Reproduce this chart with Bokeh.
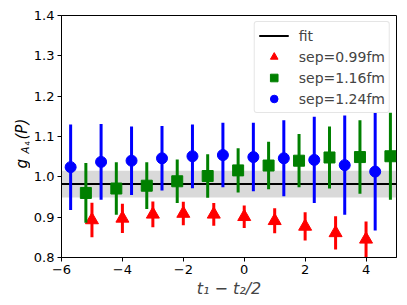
import numpy as np
from bokeh.plotting import figure
from bokeh.layouts import row
from bokeh.models import (ColumnDataSource, BoxAnnotation, Legend, LegendItem,
                          Label, FixedTicker, Range1d)
from bokeh.embed import file_html
from bokeh.resources import INLINE

# ---- data ----
x_red = [-5, -4, -3, -2, -1, 0, 1, 2, 3, 4]
y_red = [0.893, 0.897, 0.907, 0.909, 0.907, 0.901, 0.891, 0.877, 0.861, 0.845]
e_red = [0.043, 0.036, 0.032, 0.029, 0.028, 0.028, 0.031, 0.035, 0.041, 0.044]

x_green = [-5.2, -4.2, -3.2, -2.2, -1.2, -0.2, 0.8, 1.8, 2.8, 3.8, 4.8]
y_green = [0.960, 0.971, 0.978, 0.989, 1.002, 1.016, 1.028, 1.040, 1.048, 1.049, 1.051]
e_green = [0.074, 0.065, 0.058, 0.054, 0.054, 0.055, 0.059, 0.066, 0.077, 0.091, 0.108]

x_blue = [-5.7, -4.7, -3.7, -2.7, -1.7, -0.7, 0.3, 1.3, 2.3, 3.3, 4.3]
y_blue = [1.024, 1.037, 1.040, 1.046, 1.051, 1.054, 1.049, 1.046, 1.042, 1.029, 1.013]
e_blue = [0.106, 0.094, 0.085, 0.080, 0.079, 0.080, 0.085, 0.094, 0.107, 0.123, 0.146]

fit_value = 0.982
fit_error = 0.033

x_limits = [-6, 5]
y_limits = [0.8, 1.4]
x_ticks = [-6, -4, -2, 0, 2, 4]
y_ticks = [0.8, 0.9, 1.0, 1.1, 1.2, 1.3, 1.4]

labels = ["sep=0.99fm", "sep=1.16fm", "sep=1.24fm"]

FONT = "DejaVu Sans"
TOTAL_H = 305
LABEL_W = 30

p = figure(frame_width=335, frame_height=242, output_backend="svg", toolbar_location=None,
           x_range=Range1d(*x_limits), y_range=Range1d(*y_limits),
           min_border_left=29, min_border_right=13, min_border_top=15,
           min_border_bottom=48)
p.grid.visible = False
p.outline_line_color = "black"
p.outline_line_width = 1
p.background_fill_color = "white"
p.border_fill_color = "white"

for ax in (p.xaxis, p.yaxis):
    ax.major_label_text_font = FONT
    ax.major_label_text_font_size = "13px"
    ax.major_label_text_color = "black"
    ax.axis_line_color = "black"
    ax.major_tick_line_color = "black"
    ax.major_tick_out = 4
    ax.major_tick_in = 0
    ax.minor_tick_line_color = None
p.xaxis.ticker = FixedTicker(ticks=x_ticks)
p.yaxis.ticker = FixedTicker(ticks=y_ticks)
p.xaxis.major_label_overrides = {t: ("\u2212" + str(abs(t)) if t < 0 else str(t)) for t in x_ticks}
p.yaxis.major_label_overrides = {t: f"{t:.1f}" for t in y_ticks}
p.xaxis.major_label_standoff = 3
p.yaxis.major_label_standoff = 3

p.xaxis.axis_label = "t\u2081 \u2212 t\u2082/2"
p.xaxis.axis_label_text_font = FONT
p.xaxis.axis_label_text_font_size = "16px"
p.xaxis.axis_label_text_font_style = "italic"
p.xaxis.axis_label_standoff = 2

band = BoxAnnotation(bottom=fit_value - fit_error, top=fit_value + fit_error,
                     fill_color="gray", fill_alpha=0.3, line_color=None, level="underlay")
p.add_layout(band)
fit_r = p.line(x=x_limits, y=[fit_value, fit_value], line_color="black", line_width=2)

def series(xs, ys, es, color, marker, size):
    src = ColumnDataSource(dict(x=xs, y=ys,
                                lo=[a - b for a, b in zip(ys, es)],
                                hi=[a + b for a, b in zip(ys, es)]))
    p.segment(x0="x", y0="lo", x1="x", y1="hi", source=src,
              line_color=color, line_width=3)
    mk = p.scatter(x="x", y="y", source=src, marker=marker, size=size,
                   fill_color=color, line_color=color)
    return mk

r_red = series(x_red, y_red, e_red, "red", "triangle", 13)
r_green = series(x_green, y_green, e_green, "green", "square", 11)
r_blue = series(x_blue, y_blue, e_blue, "blue", "circle", 11)

legend = Legend(items=[LegendItem(label="fit", renderers=[fit_r]),
                       LegendItem(label=labels[0], renderers=[r_red]),
                       LegendItem(label=labels[1], renderers=[r_green]),
                       LegendItem(label=labels[2], renderers=[r_blue])],
                location="top_right")
legend.label_text_font = FONT
legend.label_text_font_size = "14px"
legend.border_line_color = "#cccccc"
legend.border_line_width = 1
legend.border_radius = 3
legend.background_fill_alpha = 0.8
legend.margin = 6
legend.padding = 4
legend.spacing = 2
legend.glyph_width = 30
legend.glyph_height = 19
legend.label_standoff = 10
legend.label_height = 19
p.add_layout(legend)

# narrow figure holding the y-axis label g_{A_4}(P)
q = figure(frame_width=LABEL_W, frame_height=TOTAL_H, output_backend="svg",
           toolbar_location=None, title=None,
           x_range=Range1d(0, LABEL_W), y_range=Range1d(0, TOTAL_H),
           min_border=0, x_axis_type=None, y_axis_type=None)
q.grid.visible = False
q.outline_line_color = None
q.background_fill_color = "white"
q.border_fill_color = "white"
ylab_parts = [("g", 21.5, 152, "15px", "italic"),
              ("A", 24.5, 167, "10px", "italic"),
              ("4", 26.0, 175, "7px", "normal"),
              ("(P)", 21.5, 181, "15px", "italic")]
for txt, xx, yy, fs, st in ylab_parts:
    q.add_layout(Label(x=xx, y=yy, text=txt,
                       angle=np.pi / 2, text_font=FONT, text_font_size=fs,
                       text_font_style=st,
                       text_align="left", text_baseline="alphabetic",
                       text_color="black"))

layout = row(q, p, spacing=0)
open("out.html", "w").write(file_html(layout, INLINE))
